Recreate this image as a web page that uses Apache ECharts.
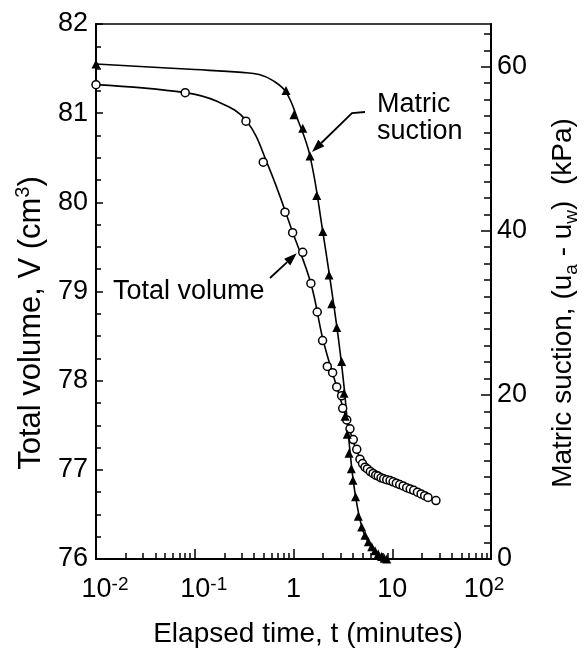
<!DOCTYPE html>
<html><head><meta charset="utf-8">
<script src="https://cdn.jsdelivr.net/npm/echarts@6/dist/echarts.min.js"></script>
<style>html,body{margin:0;padding:0;background:#fff}#c{width:588px;height:654px}</style>
</head><body><div id="c"></div><script>
const FONT = '"Liberation Sans", Arial, Helvetica, sans-serif';

// Total volume markers (t in minutes, V in cm3)
const volT = [0.01, 0.08, 0.33, 0.494, 0.82, 0.98, 1.24, 1.50, 1.74, 1.97, 2.20, 2.49, 2.74, 3.07, 3.15, 3.46, 3.73, 4.03, 4.37, 4.71,
  5.0, 5.3, 5.6, 6.0, 6.4, 6.8, 7.2, 7.7, 8.2, 8.8, 9.5, 10.2, 11.0, 11.9, 12.9, 14.0, 15.2, 16.5, 18.0, 19.6, 21.3, 23.0, 27.7];
const volV = [81.32, 81.23, 80.91, 80.45, 79.89, 79.66, 79.44, 79.09, 78.77, 78.45, 78.16, 78.09, 77.93, 77.83, 77.69, 77.56, 77.46, 77.34, 77.23, 77.12,
  77.07, 77.03, 77.01, 76.98, 76.96, 76.94, 76.93, 76.91, 76.90, 76.89, 76.88, 76.865, 76.85, 76.835, 76.82, 76.80, 76.785, 76.77, 76.75, 76.73, 76.71, 76.69, 76.655];
// Fitted total-volume curve
const volCurveT = [0.01, 0.08, 0.17, 0.33, 0.55, 1.0, 1.5, 2.0, 2.74, 3.5, 4.5, 6.4, 9.5, 14, 20.6, 27.7];
const volCurveV = [81.32, 81.23, 81.13, 80.92, 80.42, 79.64, 79.09, 78.45, 77.93, 77.55, 77.18, 76.96, 76.88, 76.80, 76.72, 76.655];

// Matric suction markers (t in minutes, suction in kPa)
const sucT = [0.01, 0.84, 1.01, 1.24, 1.47, 1.72, 1.98, 2.29, 2.44, 2.74, 3.07, 3.25, 3.33, 3.5, 3.65, 3.85, 4.0, 4.25, 4.53, 4.9, 5.3, 5.73, 6.2, 6.69, 7.2, 7.81, 8.3, 8.8];
const sucS = [60.33, 57.1, 54.15, 52.5, 49.1, 44.3, 39.9, 34.6, 31.1, 28.2, 24.06, 20.2, 17.4, 15.2, 12.9, 11.0, 9.6, 7.6, 5.2, 3.9, 2.9, 2.1, 1.5, 1.0, 0.6, 0.3, 0.1, 0];
// Fitted suction curve
const sucCurveT = [0.01, 0.1, 0.3, 0.45, 0.62, 0.84, 1.1, 1.47, 1.98, 2.74, 3.25, 3.7, 4.2, 5.0, 6.0, 7.5, 8.8];
const sucCurveS = [60.33, 59.65, 59.3, 59.05, 58.3, 56.9, 53.6, 49.1, 39.9, 28.4, 21.0, 13.6, 8.0, 3.6, 1.6, 0.4, 0];

// Axis tick values
const xMajorTicks = [0.01, 0.1, 1, 10, 100];
const leftRange = [76, 82];
const rightRange = [0, 65.2];
const rightMajorTicks = [0, 20, 40, 60];

const xMinorTicks = [];
[0.01, 0.1, 1, 10].forEach(d => { for (let k = 2; k <= 9; k++) xMinorTicks.push(+(d * k).toPrecision(6)); });
const rightMinorTicks = [];
for (let v = 2; v < rightRange[1]; v += 2) if (v % 20 !== 0) rightMinorTicks.push(v);

const zip = (a, b) => a.map((v, i) => [v, b[i]]);
const black = '#000';
const chart = echarts.init(document.getElementById('c'));

const axisLineStyle = { show: true, lineStyle: { color: black, width: 2 } };
const tickLine = { color: black, width: 1.5 };

chart.setOption({
  animation: false,
  backgroundColor: '#fff',
  grid: { left: 96, right: 97, top: 24, bottom: 95, show: true, borderColor: black, borderWidth: 1.5, outerBoundsMode: 'none', containLabel: false },
  xAxis: [
    { type: 'log', logBase: 10, min: 0.01, max: 100, position: 'bottom',
      axisLine: axisLineStyle,
      axisTick: { show: true, inside: true, length: 10, lineStyle: tickLine, customValues: xMajorTicks },
      splitLine: { show: false },
      axisLabel: { customValues: xMajorTicks, margin: 16, color: black,
        formatter: v => {
          const e = Math.round(Math.log10(v));
          if (e === 0) return '{b|1}';
          if (e === 1) return '{b|10}';
          if (e < 0) return '{pad|}{b|10}{s|' + e + '}';
          return '{b|10}{s|' + e + '}{pad2|}';
        },
        rich: {
          b: { fontSize: 27, fontFamily: FONT, color: black, lineHeight: 30 },
          s: { fontSize: 19, fontFamily: FONT, color: black, lineHeight: 16, verticalAlign: 'top' },
          pad: { width: 18, height: 1 },
          pad2: { width: 14, height: 1 }
        }
      }
    },
    { type: 'log', logBase: 10, min: 0.01, max: 100, position: 'bottom',
      axisLine: { show: false },
      axisTick: { show: true, inside: true, length: 6, lineStyle: tickLine, customValues: xMinorTicks },
      axisLabel: { show: false }, splitLine: { show: false }
    }
  ],
  yAxis: [
    { type: 'value', min: leftRange[0], max: leftRange[1], interval: 1, position: 'left',
      axisLine: axisLineStyle,
      axisTick: { show: true, inside: true, length: 7, lineStyle: tickLine },
      minorTick: { show: true, splitNumber: 4, length: 5, lineStyle: tickLine },
      splitLine: { show: false }, minorSplitLine: { show: false },
      axisLabel: { margin: 8, fontSize: 27, fontFamily: FONT, color: black }
    },
    { type: 'value', min: rightRange[0], max: rightRange[1], position: 'right',
      axisLine: axisLineStyle,
      axisTick: { show: true, inside: true, length: 10, lineStyle: tickLine, customValues: rightMajorTicks },
      splitLine: { show: false },
      axisLabel: { customValues: rightMajorTicks, margin: 6, fontSize: 27, fontFamily: FONT, color: black }
    },
    { type: 'value', min: rightRange[0], max: rightRange[1], position: 'right',
      axisLine: { show: false },
      axisTick: { show: true, inside: true, length: 7, lineStyle: tickLine, customValues: rightMinorTicks },
      splitLine: { show: false }, axisLabel: { show: false }
    }
  ],
  series: [
    { type: 'line', xAxisIndex: 0, yAxisIndex: 0, data: zip(volCurveT, volCurveV), smooth: 0.4,
      symbol: 'none', lineStyle: { color: black, width: 1.6 }, silent: true, z: 2 },
    { type: 'scatter', xAxisIndex: 0, yAxisIndex: 0, data: zip(volT, volV), symbol: 'circle', symbolSize: 8,
      itemStyle: { color: '#fff', borderColor: black, borderWidth: 1.5, opacity: 1 }, z: 3 },
    { type: 'line', xAxisIndex: 0, yAxisIndex: 1, data: zip(sucCurveT, sucCurveS), smooth: 0.4,
      symbol: 'none', lineStyle: { color: black, width: 1.6 }, silent: true, z: 2 },
    { type: 'scatter', xAxisIndex: 0, yAxisIndex: 1, data: zip(sucT, sucS), symbol: 'triangle', symbolSize: 9,
      itemStyle: { color: black, opacity: 1 }, z: 3 }
  ]
});

// Annotations: arrow tips anchored to data points
const tipSuc = chart.convertToPixel({ seriesIndex: 3 }, [1.47, 49.1]);
const tipVol = chart.convertToPixel({ seriesIndex: 1 }, [1.24, 79.44]);

function arrow(points) {
  const n = points.length;
  const tip = points[n - 1], prev = points[n - 2];
  const dx = tip[0] - prev[0], dy = tip[1] - prev[1];
  const len = Math.hypot(dx, dy), ux = dx / len, uy = dy / len;
  const L = 13, W = 4.5;
  const base = [tip[0] - ux * L, tip[1] - uy * L];
  const line = points.slice(0, n - 1).concat([base]);
  return [
    { type: 'polyline', shape: { points: line }, style: { stroke: black, lineWidth: 1.8, fill: null }, z: 10 },
    { type: 'polygon', shape: { points: [tip, [base[0] - uy * W, base[1] + ux * W], [base[0] + uy * W, base[1] - ux * W]] }, style: { fill: black }, z: 10 }
  ];
}

const sTip = [tipSuc[0] + 2, tipSuc[1] - 4];
const vTip = [tipVol[0] - 6, tipVol[1] + 1];

const txt = (text, x, y, extra) => Object.assign({ type: 'text', x, y, z: 10,
  style: { text, fontSize: 27, fontFamily: FONT, fill: black, align: 'left', verticalAlign: 'middle' } }, extra || {});

chart.setOption({
  graphic: [
    ...arrow([[365, 112], [352, 113], sTip]),
    ...arrow([[270, 278], vTip]),
    txt('Matric', 377, 105),
    txt('suction', 377, 132),
    txt('Total volume', 113, 292),
    { type: 'text', x: 308, y: 634, z: 10,
      style: { text: 'Elapsed time, t (minutes)', fontSize: 28, fontFamily: FONT, fill: black, align: 'center', verticalAlign: 'middle' } },
    { type: 'text', x: 31, y: 323, rotation: Math.PI / 2, z: 10,
      style: { text: '{a|Total volume, V (cm}{sup|3}{a|)}', align: 'center', verticalAlign: 'middle', fill: black,
        rich: { a: { fontSize: 31, fontFamily: FONT, fill: black, lineHeight: 36 },
                sup: { fontSize: 20, fontFamily: FONT, fill: black, lineHeight: 18, verticalAlign: 'top' } } } },
    { type: 'text', x: 563, y: 303, rotation: Math.PI / 2, z: 10,
      style: { text: '{a|Matric suction, (u}{sub|a}{a| - u}{sub|w}{a|)  (kPa)}', align: 'center', verticalAlign: 'middle', fill: black,
        rich: { a: { fontSize: 28, fontFamily: FONT, fill: black, lineHeight: 36 },
                sub: { fontSize: 19, fontFamily: FONT, fill: black, lineHeight: 16, verticalAlign: 'bottom' } } } }
  ]
});
</script></body></html>
